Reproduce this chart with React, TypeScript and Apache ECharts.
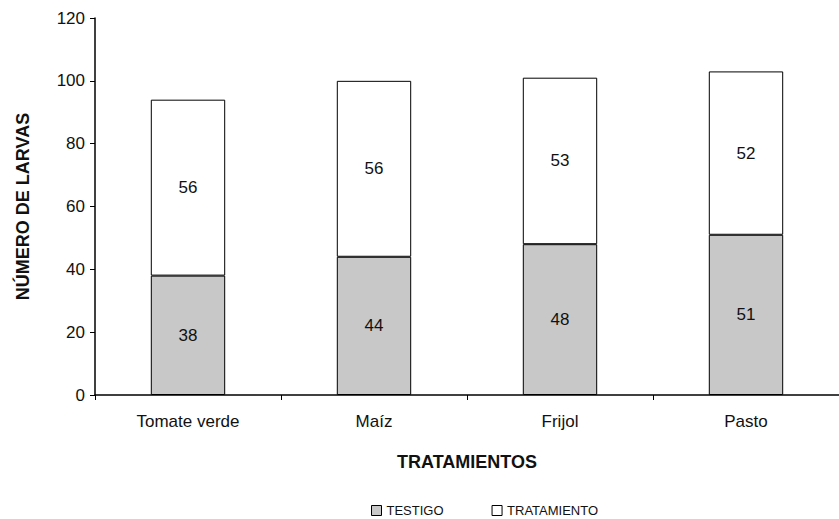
import React, { useEffect, useRef } from "react";
import * as echarts from "echarts";

const categories = ["Tomate verde", "Maíz", "Frijol", "Pasto"];
const testigo = [38, 44, 48, 51];
const tratamiento = [56, 56, 53, 52];
const yTicks = { min: 0, max: 120, interval: 20 };

export default function App() {
  const ref = useRef<HTMLDivElement>(null);
  useEffect(() => {
    document.body.style.margin = "0";
    const chart = echarts.init(ref.current!, null, { renderer: "svg" });
    const font = "Liberation Sans, Arial, sans-serif";
    const textColor = "#111";
    chart.setOption({
      animation: false,
      textStyle: { fontFamily: font },
      grid: { left: 95, top: 18, width: 756, height: 377 },
      legend: {
        left: 366,
        top: 499,
        icon: "rect",
        itemWidth: 10,
        itemHeight: 10,
        itemGap: 48,
        textStyle: { fontFamily: font, fontSize: 13, color: textColor },
        data: [
          { name: "TESTIGO", itemStyle: { color: "#c8c8c8", borderColor: "#000", borderWidth: 1 } },
          { name: "TRATAMIENTO", itemStyle: { color: "#fff", borderColor: "#000", borderWidth: 1 } },
        ],
      },
      xAxis: {
        type: "category",
        data: categories,
        name: "TRATAMIENTOS",
        nameLocation: "middle",
        nameGap: 58,
        nameTextStyle: { fontFamily: font, fontSize: 18, fontWeight: "bold", color: textColor },
        axisLine: { lineStyle: { color: "#000", width: 1.5 } },
        axisTick: { show: true, length: 5, lineStyle: { color: "#000" } },
        axisLabel: { color: textColor, fontSize: 17, margin: 18, fontFamily: font },
      },
      yAxis: {
        type: "value",
        min: yTicks.min,
        max: yTicks.max,
        interval: yTicks.interval,
        name: "NÚMERO DE LARVAS",
        nameLocation: "middle",
        nameGap: 63,
        nameTextStyle: { fontFamily: font, fontSize: 18, fontWeight: "bold", color: textColor },
        axisLine: { show: true, lineStyle: { color: "#000", width: 1.5 } },
        axisTick: { show: true, length: 5, lineStyle: { color: "#000" } },
        axisLabel: { color: textColor, fontSize: 17, margin: 10, fontFamily: font },
        splitLine: { show: false },
      },
      series: [
        {
          name: "TESTIGO",
          type: "bar",
          stack: "total",
          barWidth: "40%",
          data: testigo,
          itemStyle: { color: "#c8c8c8", borderColor: "#000", borderWidth: 1 },
          label: { show: true, position: "inside", color: textColor, fontSize: 17, fontFamily: font },
        },
        {
          name: "TRATAMIENTO",
          type: "bar",
          stack: "total",
          barWidth: "40%",
          data: tratamiento,
          itemStyle: { color: "#fff", borderColor: "#000", borderWidth: 1 },
          label: { show: true, position: "inside", color: textColor, fontSize: 17, fontFamily: font },
        },
      ],
    });
    return () => chart.dispose();
  }, []);
  return <div ref={ref} style={{ width: 839, height: 519 }} />;
}
